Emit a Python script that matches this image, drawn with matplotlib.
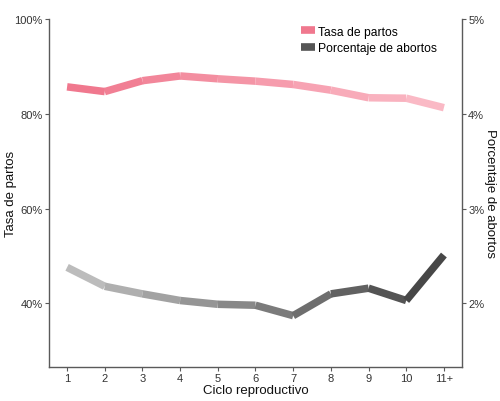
import matplotlib
matplotlib.use("Agg")
import matplotlib.pyplot as plt
import numpy as np
from matplotlib.collections import LineCollection
from matplotlib.colors import to_rgb
from matplotlib.lines import Line2D
from matplotlib.ticker import FuncFormatter

plt.rcParams['font.family'] = ['Liberation Sans', 'DejaVu Sans']

cycles = [1, 2, 3, 4, 5, 6, 7, 8, 9, 10, 11]
cycle_labels = ["1", "2", "3", "4", "5", "6", "7", "8", "9", "10", "11+"]
tasa_partos = [85.7, 84.7, 87.0, 88.0, 87.4, 86.9, 86.2, 85.0, 83.4, 83.3, 81.3]
pct_abortos = [2.38, 2.18, 2.10, 2.03, 1.99, 1.98, 1.87, 2.10, 2.16, 2.03, 2.51]

pink_start, pink_end = "#f0788e", "#fab9c5"
gray_start, gray_end = "#bcbcbc", "#474747"

fig = plt.figure(figsize=(5.0, 4.02), dpi=100)
ax = fig.add_axes([0.098, 0.085, 0.826, 0.865])

def grad_line(ax, x, y, c0, c1, lw):
    x = np.asarray(x, float); y = np.asarray(y, float)
    pts = np.column_stack([x, y])
    segs = [pts[i:i + 2] for i in range(len(pts) - 1)]
    a = np.array(to_rgb(c0)); b = np.array(to_rgb(c1))
    n = len(segs)
    cols = [tuple(a + (b - a) * i / max(n - 1, 1)) for i in range(n)]
    lc = LineCollection(segs, colors=cols, linewidths=lw, capstyle='butt', joinstyle='miter')
    ax.add_collection(lc)

grad_line(ax, cycles, tasa_partos, pink_start, pink_end, 5.4)
# right axis scale: 1% = 20% on left
grad_line(ax, cycles, [v * 20 for v in pct_abortos], gray_start, gray_end, 5.4)

ax.set_xlim(0.52, 11.48)
ax.set_ylim(26.6, 100)
ax.set_xticks(cycles)
ax.set_xticklabels(cycle_labels)
ax.set_yticks([40, 60, 80, 100])
ax.yaxis.set_major_formatter(FuncFormatter(lambda v, p: f"{v:.0f}%"))

ax2 = ax.twinx()
ax2.set_ylim(26.6 / 20, 5)
ax2.set_yticks([2, 3, 4, 5])
ax2.yaxis.set_major_formatter(FuncFormatter(lambda v, p: f"{v:.0f}%"))

spine_col = "#5a5a5a"
for a in (ax, ax2):
    a.spines['top'].set_visible(False)
    for s in ('left', 'right', 'bottom'):
        a.spines[s].set_color(spine_col)
        a.spines[s].set_linewidth(1.0)
    a.tick_params(colors=spine_col, labelcolor="#333333", labelsize=8.0, length=3, width=0.8, pad=1.5)
ax.spines['right'].set_visible(False)
ax2.spines['left'].set_visible(False)
ax2.spines['bottom'].set_visible(False)

ax.set_xlabel("Ciclo reproductivo", fontsize=9.5, color="#111111", labelpad=1)
ax.set_ylabel("Tasa de partos", fontsize=9.5, color="#111111")
ax.yaxis.set_label_coords(-0.0775, 0.5)
ax2.set_ylabel("Porcentaje de abortos", fontsize=9.5, color="#111111", rotation=270, va='center')
ax2.yaxis.set_label_coords(1.067, 0.5)

handles = [Line2D([0], [0], color=pink_start, lw=5.5, solid_capstyle='butt'),
           Line2D([0], [0], color="#555555", lw=5.5, solid_capstyle='butt')]
fig.legend(handles, ["Tasa de partos", "Porcentaje de abortos"], loc='upper left',
           bbox_to_anchor=(0.586, 0.955), frameon=False, fontsize=8.7,
           handlelength=1.1, handletextpad=0.3, labelspacing=0.4, borderpad=0.2)

fig.savefig("out.png", dpi=100, facecolor="white")
